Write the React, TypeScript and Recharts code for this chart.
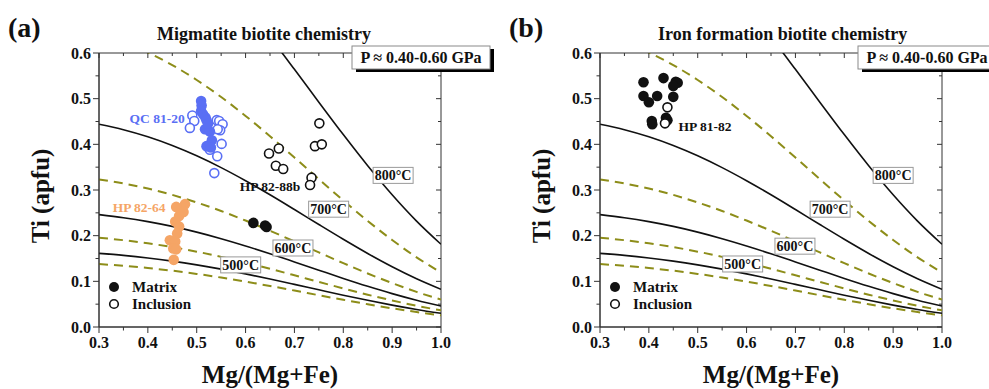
import React from "react";
import { ComposedChart, Line, Scatter, XAxis, YAxis, ReferenceDot, ReferenceArea } from "recharts";

const FONT = '"Liberation Serif", "Times New Roman", Times, serif';
const INK = "#111";
const AXIS = "#333";
const BLUE = "#5a6ff4";
const ORANGE = "#f5a566";
const OLIVE = "#8d8d19";

// Mg/(Mg+Fe) positions where the isotherms were read
const mgGrid = [0.3, 0.35, 0.4, 0.45, 0.5, 0.55, 0.6, 0.65, 0.7, 0.75, 0.8, 0.85, 0.9, 0.95, 1.0];
// solid isotherms (Ti apfu)
const ti500 = [0.1612, 0.1568, 0.1512, 0.1443, 0.1361, 0.1267, 0.1163, 0.1051, 0.0934, 0.0815, 0.0697, 0.0584, 0.0479, 0.0384, 0.03];
const ti600 = [0.2461, 0.2394, 0.2308, 0.2203, 0.2078, 0.1934, 0.1775, 0.1604, 0.1425, 0.1244, 0.1064, 0.0892, 0.0731, 0.0586, 0.0458];
const ti700 = [0.4441, 0.4321, 0.4166, 0.3975, 0.3749, 0.349, 0.3203, 0.2895, 0.2572, 0.2244, 0.1921, 0.161, 0.132, 0.1057, 0.0826];
const ti800 = [0.9742, 0.9478, 0.9138, 0.872, 0.8224, 0.7656, 0.7027, 0.635, 0.5642, 0.4923, 0.4213, 0.3531, 0.2896, 0.2319, 0.1812];
// dashed curves in between
const ti450 = [0.1377, 0.134, 0.1292, 0.1233, 0.1163, 0.1082, 0.0993, 0.0898, 0.0798, 0.0696, 0.0596, 0.0499, 0.0409, 0.0328, 0.0256];
const ti550 = [0.1954, 0.1901, 0.1833, 0.1749, 0.165, 0.1536, 0.1409, 0.1274, 0.1132, 0.0987, 0.0845, 0.0708, 0.0581, 0.0465, 0.0364];
const ti650 = [0.3232, 0.3144, 0.3032, 0.2893, 0.2728, 0.254, 0.2331, 0.2107, 0.1872, 0.1633, 0.1398, 0.1172, 0.0961, 0.0769, 0.0601];
const ti750 = [0.6408, 0.6234, 0.6011, 0.5735, 0.5409, 0.5036, 0.4622, 0.4177, 0.3711, 0.3238, 0.2771, 0.2323, 0.1905, 0.1526, 0.1192];

const xTicks = [0.3, 0.35, 0.4, 0.45, 0.5, 0.55, 0.6, 0.65, 0.7, 0.75, 0.8, 0.85, 0.9, 0.95, 1.0];
const yTicks = [0, 0.05, 0.1, 0.15, 0.2, 0.25, 0.3, 0.35, 0.4, 0.45, 0.5, 0.55, 0.6];

// (a) migmatite
const qcMatrix = [
  { x: 0.509, y: 0.495 }, { x: 0.51, y: 0.485 }, { x: 0.509, y: 0.473 }, { x: 0.513, y: 0.466 },
  { x: 0.518, y: 0.459 }, { x: 0.52, y: 0.453 }, { x: 0.517, y: 0.433 }, { x: 0.527, y: 0.428 },
  { x: 0.531, y: 0.409 }, { x: 0.52, y: 0.396 }, { x: 0.529, y: 0.393 }, { x: 0.523, y: 0.445 },
];
const qcInclusion = [
  { x: 0.491, y: 0.463 }, { x: 0.495, y: 0.451 }, { x: 0.486, y: 0.436 }, { x: 0.541, y: 0.453 },
  { x: 0.546, y: 0.451 }, { x: 0.553, y: 0.444 }, { x: 0.548, y: 0.431 }, { x: 0.543, y: 0.433 },
  { x: 0.551, y: 0.401 }, { x: 0.527, y: 0.388 }, { x: 0.542, y: 0.374 }, { x: 0.536, y: 0.337 },
];
const hp64Matrix = [
  { x: 0.476, y: 0.269 }, { x: 0.458, y: 0.263 }, { x: 0.473, y: 0.252 }, { x: 0.464, y: 0.243 },
  { x: 0.456, y: 0.231 }, { x: 0.464, y: 0.22 }, { x: 0.46, y: 0.205 }, { x: 0.445, y: 0.19 },
  { x: 0.456, y: 0.187 }, { x: 0.452, y: 0.172 }, { x: 0.458, y: 0.17 }, { x: 0.453, y: 0.147 },
];
const hp88Matrix = [{ x: 0.616, y: 0.228 }, { x: 0.64, y: 0.222 }, { x: 0.643, y: 0.219 }];
const hp88Inclusion = [
  { x: 0.751, y: 0.446 }, { x: 0.742, y: 0.396 }, { x: 0.756, y: 0.4 }, { x: 0.668, y: 0.391 },
  { x: 0.648, y: 0.38 }, { x: 0.662, y: 0.353 }, { x: 0.677, y: 0.346 }, { x: 0.735, y: 0.327 },
  { x: 0.732, y: 0.311 },
];
// (b) iron formation
const hp8182Matrix = [
  { x: 0.389, y: 0.536 }, { x: 0.43, y: 0.545 }, { x: 0.455, y: 0.537 }, { x: 0.459, y: 0.535 },
  { x: 0.45, y: 0.528 }, { x: 0.389, y: 0.506 }, { x: 0.417, y: 0.506 }, { x: 0.45, y: 0.504 },
  { x: 0.4, y: 0.492 }, { x: 0.435, y: 0.458 }, { x: 0.438, y: 0.453 }, { x: 0.406, y: 0.451 },
  { x: 0.407, y: 0.444 },
];
const hp8182Inclusion = [{ x: 0.438, y: 0.481 }, { x: 0.433, y: 0.446 }];

const isoLabels = ["500°C", "600°C", "700°C", "800°C"];
const isoLabelPosA = [{ x: 0.59, y: 0.136 }, { x: 0.697, y: 0.173 }, { x: 0.77, y: 0.258 }, { x: 0.902, y: 0.332 }];
const isoLabelPosB = [{ x: 0.592, y: 0.138 }, { x: 0.699, y: 0.177 }, { x: 0.771, y: 0.258 }, { x: 0.9, y: 0.332 }];

const curveRows = mgGrid.map((x, i) => ({
  x, t450: ti450[i], t500: ti500[i], t550: ti550[i], t600: ti600[i],
  t650: ti650[i], t700: ti700[i], t750: ti750[i], t800: ti800[i],
}));

// plot box size in px (same for both panels)
const PW = 342;
const PH = 274;

const isMajor = (v: number) => Math.abs(v * 10 - Math.round(v * 10)) < 1e-6;
const tickText = { fontFamily: FONT, fontWeight: 700, fontSize: 16, fill: INK };

// bottom ticks out, mirrored ticks on the top edge point in
function BottomTick(p: any) {
  const v = p.payload.value;
  const major = isMajor(v);
  const top = p.y - PH;
  return (
    <g>
      <line x1={p.x} x2={p.x} y1={p.y} y2={p.y + (major ? 6 : 3.5)} stroke={AXIS} />
      <line x1={p.x} x2={p.x} y1={top} y2={top + (major ? 5 : 3)} stroke={AXIS} />
      {major && <text x={p.x} y={p.y + 21} textAnchor="middle" {...tickText}>{v.toFixed(1)}</text>}
    </g>
  );
}
function LeftTick(p: any) {
  const v = p.payload.value;
  const major = isMajor(v);
  const right = p.x + PW;
  return (
    <g>
      <line x1={p.x - (major ? 6 : 3.5)} x2={p.x} y1={p.y} y2={p.y} stroke={AXIS} />
      <line x1={right - (major ? 5 : 3)} x2={right} y1={p.y} y2={p.y} stroke={AXIS} />
      {major && <text x={p.x - 8} y={p.y + 5.5} textAnchor="end" {...tickText}>{v.toFixed(1)}</text>}
    </g>
  );
}

const dot = (color: string, open: boolean) => (p: any) =>
  open ? (
    <circle cx={p.cx} cy={p.cy} r={4.5} fill="#fff" stroke={color} strokeWidth={1.6} />
  ) : (
    <circle cx={p.cx} cy={p.cy} r={5.3} fill={color} />
  );

function TempBox(label: string) {
  return (p: any) => (
    <g>
      <rect x={p.cx - 20} y={p.cy - 8} width={40} height={16} fill="#fff" stroke="#9a9a9a" />
      <text x={p.cx} y={p.cy + 5} textAnchor="middle" fontFamily={FONT} fontWeight={700} fontSize={14} fill={INK}>
        {label}
      </text>
    </g>
  );
}
function SampleText(label: string, color: string) {
  return (p: any) => (
    <text x={p.cx} y={p.cy + 5} textAnchor="middle" fontFamily={FONT} fontWeight={700} fontSize={13.5} fill={color}>
      {label}
    </text>
  );
}

function panelChildren(labelPos: { x: number; y: number }[]) {
  const axes = [
    <XAxis key="xb" dataKey="x" type="number" domain={[0.3, 1]} ticks={xTicks} interval={0} height={1}
      tickSize={0} tickMargin={0} tickLine={false} tick={BottomTick} allowDataOverflow
      axisLine={{ stroke: AXIS }} />,
    <YAxis key="yl" dataKey="y" type="number" domain={[0, 0.6]} ticks={yTicks} interval={0} width={1}
      tickSize={0} tickMargin={0} tickLine={false} tick={LeftTick} allowDataOverflow
      axisLine={{ stroke: AXIS }} />,
    <ReferenceArea key="frame" x1={0.3} x2={1} y1={0} y2={0.6} fill="none" fillOpacity={0}
      stroke={AXIS} strokeWidth={1} ifOverflow="visible" />,
  ];
  const dashed = ["t450", "t550", "t650", "t750"].map((k) => (
    <Line key={k} dataKey={k} type="monotone" stroke={OLIVE} strokeWidth={2} strokeDasharray="9 6"
      dot={false} activeDot={false} isAnimationActive={false} />
  ));
  const solid = ["t500", "t600", "t700", "t800"].map((k) => (
    <Line key={k} dataKey={k} type="monotone" stroke={INK} strokeWidth={1.6}
      dot={false} activeDot={false} isAnimationActive={false} />
  ));
  const boxes = isoLabels.map((l, i) => (
    <ReferenceDot key={l} x={labelPos[i].x} y={labelPos[i].y} ifOverflow="visible" shape={TempBox(l)} />
  ));
  return [...axes, ...dashed, ...solid, ...boxes];
}

const W = 989;
const H = 389;

function Overlay() {
  const t = { fontFamily: FONT, fontWeight: 700, fill: INK } as const;
  const pBox = (x: number) => (
    <g>
      <rect x={x + 4} y={49} width={138} height={23} fill="#000" />
      <rect x={x} y={46} width={138} height={23} fill="#fff" stroke="#8a8a8a" />
      <text x={x + 69} y={63} textAnchor="middle" fontSize={16} {...t}>P ≈ 0.40-0.60 GPa</text>
    </g>
  );
  const legend = (x: number) => (
    <g>
      <circle cx={x} cy={287} r={5} fill={INK} />
      <circle cx={x} cy={304} r={4.3} fill="#fff" stroke={INK} strokeWidth={1.6} />
      <text x={x + 18} y={292} fontSize={15} {...t}>Matrix</text>
      <text x={x + 18} y={309} fontSize={15} {...t}>Inclusion</text>
    </g>
  );
  return (
    <svg width={W} height={H} style={{ position: "absolute", left: 0, top: 0, pointerEvents: "none" }}>
      <text x={8} y={37} fontSize={28} {...t}>(a)</text>
      <text x={509} y={37} fontSize={28} {...t}>(b)</text>
      <text x={157} y={40} fontSize={18} {...t}>Migmatite biotite chemistry</text>
      <text x={658} y={40} fontSize={18} {...t}>Iron formation biotite chemistry</text>
      <text transform="translate(49,196) rotate(-90)" textAnchor="middle" fontSize={25} {...t}>Ti (apfu)</text>
      <text transform="translate(550,196) rotate(-90)" textAnchor="middle" fontSize={25} {...t}>Ti (apfu)</text>
      <text x={270} y={383} textAnchor="middle" fontSize={25} {...t}>Mg/(Mg+Fe)</text>
      <text x={771} y={383} textAnchor="middle" fontSize={25} {...t}>Mg/(Mg+Fe)</text>
      {legend(114)}
      {legend(615)}
      {pBox(352)}
      {pBox(858)}
    </svg>
  );
}

export default function App() {
  return (
    <div style={{ position: "absolute", left: 0, top: 0, width: W, height: H, background: "#fff", overflow: "hidden" }}>
      <div style={{ position: "absolute", left: 0, top: 0 }}>
        <ComposedChart width={500} height={H} data={curveRows} margin={{ top: 53, right: 59, bottom: 61, left: 98 }}>
          {panelChildren(isoLabelPosA)}
          <Scatter data={qcInclusion} shape={dot(BLUE, true)} isAnimationActive={false} />
          <Scatter data={qcMatrix} shape={dot(BLUE, false)} isAnimationActive={false} />
          <Scatter data={hp64Matrix} shape={dot(ORANGE, false)} isAnimationActive={false} />
          <Scatter data={hp88Inclusion} shape={dot(INK, true)} isAnimationActive={false} />
          <Scatter data={hp88Matrix} shape={dot(INK, false)} isAnimationActive={false} />
          <ReferenceDot x={0.419} y={0.458} ifOverflow="visible" shape={SampleText("QC 81-20", BLUE)} />
          <ReferenceDot x={0.65} y={0.309} ifOverflow="visible" shape={SampleText("HP 82-88b", INK)} />
          <ReferenceDot x={0.382} y={0.263} ifOverflow="visible" shape={SampleText("HP 82-64", ORANGE)} />
        </ComposedChart>
      </div>
      <div style={{ position: "absolute", left: 500, top: 0 }}>
        <ComposedChart width={489} height={H} data={curveRows} margin={{ top: 53, right: 47, bottom: 61, left: 99 }}>
          {panelChildren(isoLabelPosB)}
          <Scatter data={hp8182Matrix} shape={dot(INK, false)} isAnimationActive={false} />
          <Scatter data={hp8182Inclusion} shape={dot(INK, true)} isAnimationActive={false} />
          <ReferenceDot x={0.515} y={0.44} ifOverflow="visible" shape={SampleText("HP 81-82", INK)} />
        </ComposedChart>
      </div>
      <Overlay />
    </div>
  );
}
